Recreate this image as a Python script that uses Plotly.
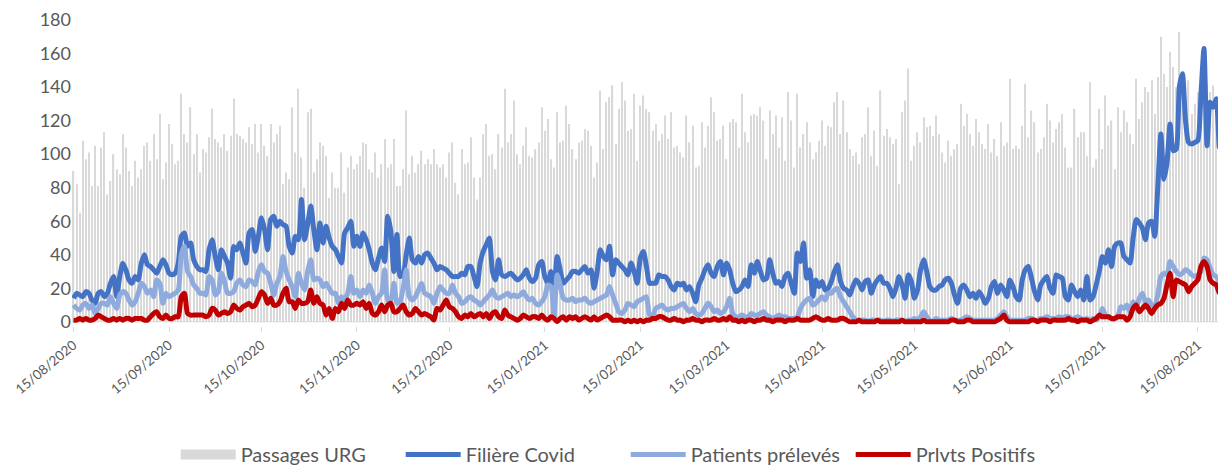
import pandas as pd
import plotly.graph_objects as go

start_date = "2020-08-15"

passages_urg = [
    90,82,65,108,97,101,81,105,81,104,113,76,84,100,91,88,112,104,90,81,96,86,91,105,107,96,112,97,124,85,95,
    118,106,94,96,136,112,107,128,100,112,89,103,101,110,127,109,107,104,112,102,111,133,112,111,109,107,116,106,118,101,118,
    105,99,118,107,112,117,82,89,85,128,101,139,98,80,125,127,89,97,107,105,99,74,89,80,80,101,77,92,99,91,94,
    99,107,106,91,89,101,86,94,109,92,94,109,81,81,91,126,88,99,89,94,102,94,97,94,103,94,92,94,86,101,107,
    83,76,103,94,95,110,86,73,86,112,118,99,100,91,112,104,139,107,112,132,100,94,105,116,99,98,103,107,128,114,121,97,
    92,125,107,108,129,118,103,97,107,108,115,114,105,86,95,138,103,131,134,141,106,127,143,132,114,115,136,96,129,135,127,
    125,114,118,108,112,123,109,125,104,105,101,98,123,107,117,92,93,119,104,117,134,125,108,109,117,97,119,121,119,104,136,
    113,107,123,124,123,128,120,97,126,112,123,104,122,96,137,120,92,136,104,112,119,107,97,101,108,120,105,117,116,131,137,
    112,132,113,103,99,101,94,110,112,128,99,114,93,138,111,115,110,106,109,82,125,132,151,96,105,113,107,122,116,117,111,
    123,112,101,95,108,99,103,106,130,117,124,112,105,121,113,106,103,118,101,109,99,119,105,107,145,103,105,103,117,142,110,
    126,119,101,103,110,130,120,107,115,119,124,104,92,92,127,110,113,113,99,143,92,97,127,103,135,117,120,91,128,113,126,
    119,112,106,145,121,131,140,137,144,124,146,170,148,140,161,152,140,173,143,134,144,124,130,137,141,134,142,137,141,127,134,130,
]

filiere_covid = [
    14,17,16,15,18,17,13,11,17,18,15,17,23,27,15,27,35,31,25,23,27,25,35,40,34,33,31,29,33,37,34,
    29,28,29,35,51,53,45,47,37,33,31,31,30,43,49,39,31,43,39,35,26,45,43,47,41,35,53,55,42,51,62,
    55,43,61,63,57,60,58,57,45,41,51,49,73,49,58,69,55,43,59,47,57,50,45,43,39,35,53,56,60,45,51,
    45,53,49,43,35,31,38,44,36,63,54,30,52,27,28,40,50,37,35,39,35,40,41,38,35,31,33,32,31,29,27,
    27,27,29,28,33,33,27,21,35,42,46,50,30,25,37,28,27,28,29,27,25,26,28,31,26,24,26,34,36,27,23,30,
    18,39,31,23,25,27,30,30,29,31,33,29,31,20,30,43,39,37,45,28,37,35,33,31,28,35,30,23,38,42,33,
    23,23,23,28,27,27,25,21,19,23,22,23,19,21,17,12,22,26,31,34,29,27,33,36,28,35,31,23,18,19,21,
    25,21,34,29,36,30,25,26,37,29,23,24,21,27,29,23,17,41,36,47,26,31,15,25,21,24,19,20,24,30,34,
    24,20,19,16,21,25,23,19,24,25,17,22,25,27,23,23,20,15,20,27,22,14,28,24,14,19,31,37,30,21,19,
    19,21,22,25,26,23,16,11,20,22,19,15,17,14,18,15,11,14,21,24,17,22,19,15,25,21,15,13,25,31,33,
    26,18,13,22,25,27,20,17,28,27,26,15,13,22,18,15,19,13,27,13,15,22,30,39,35,43,33,45,47,47,39,
    37,35,50,61,59,56,49,59,60,51,80,112,85,95,118,102,103,140,148,120,107,106,107,108,135,163,105,131,128,133,104,135,
]

patients_preleves = [
    10,8,7,10,11,8,10,5,8,11,11,10,15,11,8,16,18,17,13,10,12,17,23,21,17,19,15,25,23,11,17,
    15,16,17,19,40,45,30,27,22,20,17,17,16,27,25,16,18,29,24,17,17,18,23,25,22,21,25,24,22,30,34,
    30,29,23,16,23,27,39,30,25,21,15,29,23,19,30,37,25,26,25,21,23,20,17,17,11,15,13,17,27,17,19,
    15,19,17,22,17,11,15,17,31,13,13,23,11,12,20,31,15,13,15,19,23,17,16,15,11,17,21,19,17,17,22,
    17,15,11,12,14,15,13,12,10,12,14,16,19,15,14,15,16,17,15,16,15,16,18,15,13,14,11,10,12,15,22,21,
    3,28,22,14,13,13,14,12,13,13,14,12,11,12,13,14,15,16,21,16,11,6,5,7,11,10,9,12,13,14,15,
    4,3,8,9,10,8,7,8,8,9,10,11,8,6,8,5,4,5,8,11,9,6,7,5,6,9,14,5,3,3,4,
    3,3,5,4,4,5,6,4,3,2,3,4,3,3,2,2,2,3,8,11,13,14,10,11,13,15,13,17,17,19,20,
    15,12,9,6,3,1,1,1,1,0,1,1,1,1,0,1,1,0,1,1,1,0,1,1,2,1,3,6,3,1,0,
    2,1,1,1,1,2,1,1,1,2,3,2,1,1,1,1,1,1,1,1,2,4,6,3,1,1,1,1,1,1,2,
    2,1,1,2,2,3,2,2,2,3,2,3,3,2,2,3,2,1,2,1,2,1,3,8,4,3,2,2,3,9,8,
    10,6,12,8,14,17,12,13,10,10,16,27,29,28,36,33,30,28,29,31,30,28,27,28,30,38,37,32,28,27,24,34,
]

prlvts_positifs = [
    1,1,2,1,2,1,1,2,4,3,2,1,1,2,1,2,1,2,2,1,2,2,2,1,1,3,5,6,3,2,4,
    2,2,3,3,15,17,5,4,4,4,4,4,3,4,8,7,4,5,6,5,6,10,8,7,9,10,11,9,10,14,18,
    16,11,14,10,10,12,17,20,12,12,8,13,11,11,12,19,11,15,11,10,4,8,2,8,6,11,8,13,10,10,11,
    10,12,8,11,5,4,6,10,6,10,11,6,6,8,10,6,4,5,8,6,4,5,4,3,1,8,7,10,13,9,8,
    6,3,2,4,3,5,3,4,5,3,5,2,5,6,3,2,7,4,3,2,1,2,4,3,2,3,3,2,4,2,1,3,
    2,0,2,3,1,3,2,3,1,2,3,2,1,3,1,2,3,4,3,1,1,1,1,0,1,0,1,0,1,0,1,
    1,2,2,3,3,2,1,1,2,1,1,0,1,1,2,1,1,0,1,1,1,2,1,1,2,1,3,1,1,0,1,
    0,1,1,0,1,1,2,1,1,0,1,1,1,0,1,1,1,2,1,1,1,1,2,3,2,1,1,2,1,1,1,
    2,2,1,0,0,0,1,0,0,0,0,0,1,0,0,0,0,0,0,0,1,0,0,0,0,0,0,1,0,0,0,
    0,0,0,0,0,1,1,0,0,0,1,1,0,0,0,0,0,0,0,0,1,2,4,1,0,0,0,0,0,0,0,
    1,1,0,1,1,1,0,1,1,1,1,1,2,1,1,0,1,1,1,0,1,2,4,3,3,3,2,2,3,3,3,
    1,3,8,10,6,8,10,8,5,8,10,11,14,22,29,15,25,24,23,22,18,21,23,25,33,36,33,25,23,22,17,28,
]

tick_dates = ["2020-08-15", "2020-09-15", "2020-10-15", "2020-11-15", "2020-12-15",
              "2021-01-15", "2021-02-15", "2021-03-15", "2021-04-15", "2021-05-15",
              "2021-06-15", "2021-07-15", "2021-08-15"]
tick_labels = ["15/08/2020", "15/09/2020", "15/10/2020", "15/11/2020", "15/12/2020",
               "15/01/2021", "15/02/2021", "15/03/2021", "15/04/2021", "15/05/2021",
               "15/06/2021", "15/07/2021", "15/08/2021"]

dates = pd.date_range(start_date, periods=len(passages_urg), freq="D")

FONT = "Lato, 'Liberation Sans', sans-serif"
TXT = "#595959"
BAR_COLOR = "#d9d9d9"

fig = go.Figure()
fig.add_trace(go.Bar(x=dates, y=passages_urg, name="Passages URG", showlegend=False,
                     marker=dict(color=BAR_COLOR, line=dict(width=0))))
# legend swatch for the bars (wide rectangle, like the original)
fig.add_trace(go.Scatter(x=[None], y=[None], name="Passages URG", mode="lines",
                         line=dict(color=BAR_COLOR, width=14)))
fig.add_trace(go.Scatter(x=dates[:len(filiere_covid)], y=filiere_covid, name="Filière Covid",
                         mode="lines", line=dict(color="#4472c4", width=5, shape="spline", smoothing=0.6)))
fig.add_trace(go.Scatter(x=dates[:len(patients_preleves)], y=patients_preleves, name="Patients prélevés",
                         mode="lines", line=dict(color="#8faadc", width=5, shape="spline", smoothing=0.6)))
fig.add_trace(go.Scatter(x=dates[:len(prlvts_positifs)], y=prlvts_positifs, name="Prlvts Positifs",
                         mode="lines", line=dict(color="#c00000", width=5, shape="spline", smoothing=0.6)))

fig.add_shape(type="line", xref="paper", yref="y", x0=0, x1=1, y0=0, y1=0,
              line=dict(color="#d9d9d9", width=1), layer="below")

fig.update_layout(
    width=1226, height=467,
    margin=dict(l=64, r=10, t=12, b=149, autoexpand=False),
    paper_bgcolor="white", plot_bgcolor="white",
    bargap=0.6,
    font=dict(family=FONT, color=TXT),
    showlegend=True,
    legend=dict(orientation="h", x=0.09, xanchor="left", y=-0.42, yanchor="middle",
                font=dict(size=20, color=TXT, family=FONT), itemwidth=55,
                entrywidth=155, entrywidthmode="pixels",
                bgcolor="rgba(0,0,0,0)"),
)
fig.update_xaxes(
    type="date",
    range=[dates[0] - pd.Timedelta(hours=12), dates[-1] + pd.Timedelta(hours=12)],
    tickvals=pd.to_datetime(tick_dates), ticktext=tick_labels, tickangle=-40,
    ticks="outside", ticklen=5, tickcolor="#d9d9d9", ticklabeloverflow="allow",
    showline=False, showgrid=False, zeroline=False,
    tickfont=dict(size=13.5, color=TXT, family=FONT),
)
fig.update_yaxes(
    range=[-2.5, 180], tickvals=list(range(0, 181, 20)), ticklabeloverflow="allow",
    showgrid=False, zeroline=False, showline=False, ticks="",
    tickfont=dict(size=18, color=TXT, family=FONT),
)

fig.write_html("out.html")
